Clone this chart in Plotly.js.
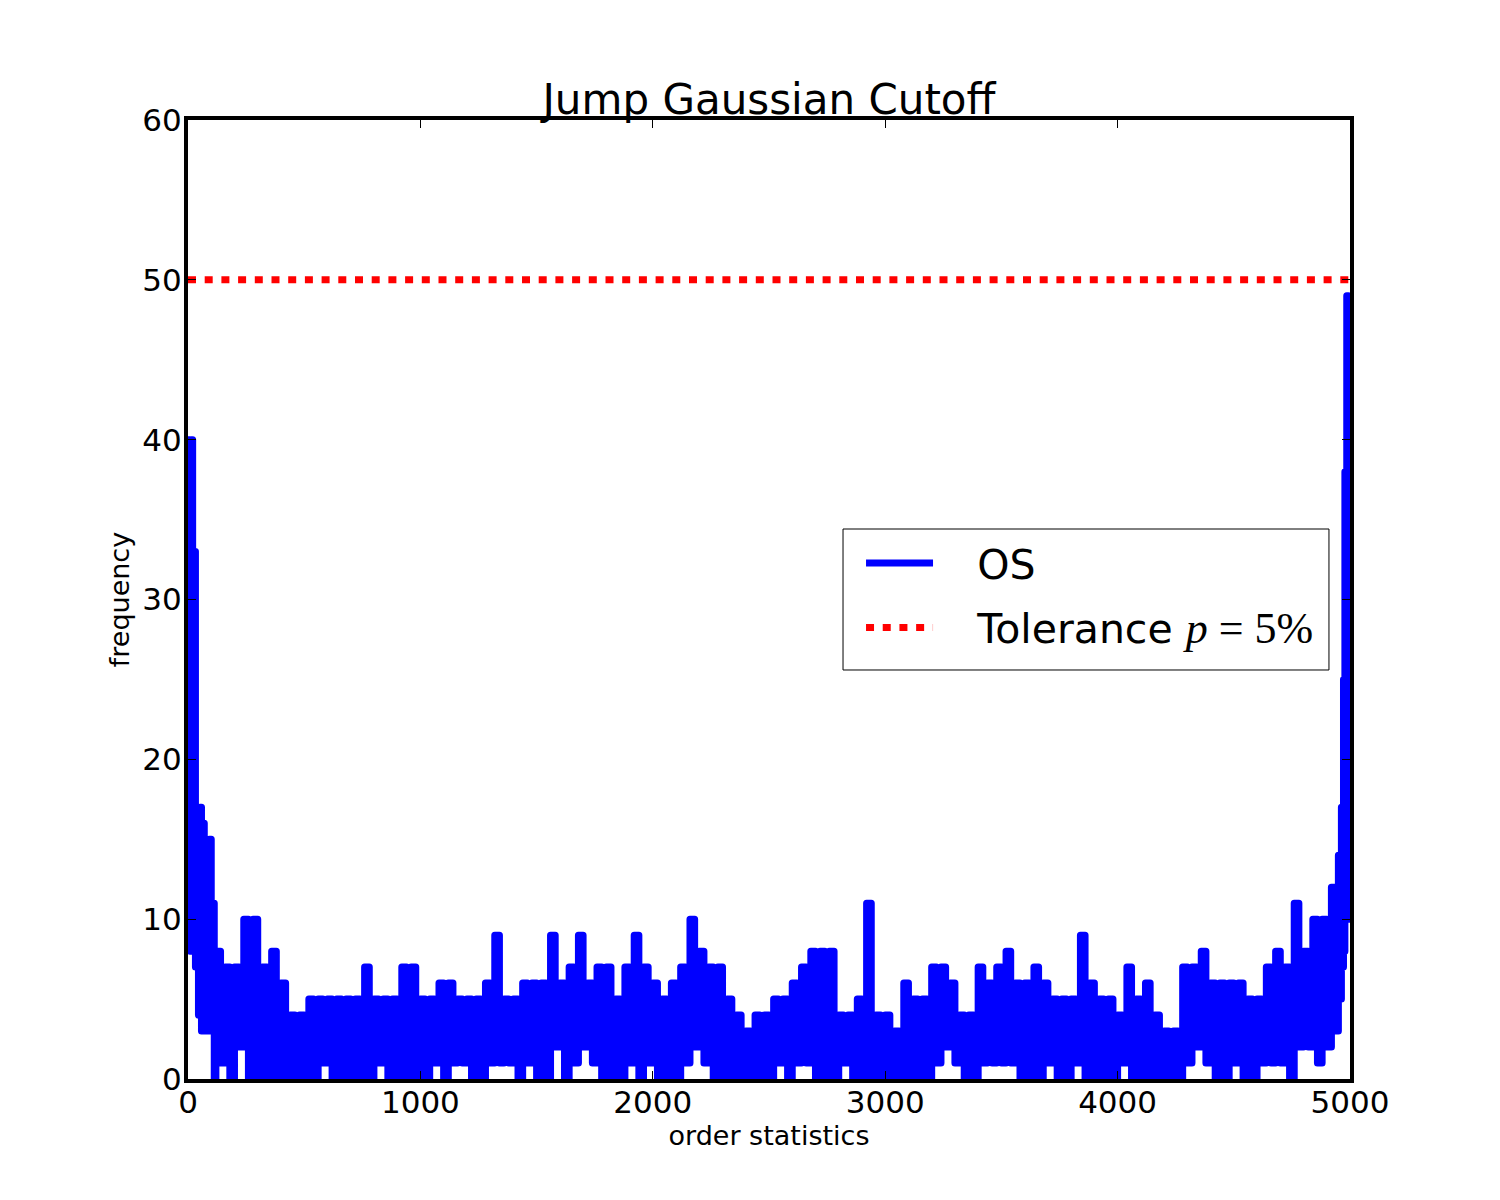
<!DOCTYPE html>
<html>
<head>
<meta charset="utf-8">
<script src="https://cdn.plot.ly/plotly-3.0.1.min.js"></script>
<style>
html,body{margin:0;padding:0;background:#fff;}
.scatterlayer .trace:first-child .js-line{stroke-linejoin:round;}
</style>
</head>
<body>
<div id="chart" style="width:1500px;height:1200px;"></div>
<script>
// Order statistics (x) and frequency (y): alternating local peaks / troughs
const osX = [0,8,14,20,26,32,38,45,52,58,64,70,78,84,92,100,106,113,
120,140,160,180,200,220,240,260,280,300,320,340,360,380,400,420,440,460,480,500,
520,540,560,580,600,620,640,660,680,700,720,740,760,780,800,820,840,860,880,900,
920,940,960,980,1000,1020,1040,1060,1080,1100,1120,1140,1160,1180,1200,1220,1240,1260,1280,1300,
1320,1340,1360,1380,1400,1420,1440,1460,1480,1500,1520,1540,1560,1580,1600,1620,1640,1660,1680,1700,
1720,1740,1760,1780,1800,1820,1840,1860,1880,1900,1920,1940,1960,1980,2000,2020,2040,2060,2080,2100,
2120,2140,2160,2180,2200,2220,2240,2260,2280,2300,2320,2340,2360,2380,2400,2420,2440,2460,2480,2500,
2520,2540,2560,2580,2600,2620,2640,2660,2680,2700,2720,2740,2760,2780,2800,2820,2840,2860,2880,2900,
2920,2940,2960,2980,3000,3020,3040,3060,3080,3100,3120,3140,3160,3180,3200,3220,3240,3260,3280,3300,
3320,3340,3360,3380,3400,3420,3440,3460,3480,3500,3520,3540,3560,3580,3600,3620,3640,3660,3680,3700,
3720,3740,3760,3780,3800,3820,3840,3860,3880,3900,3920,3940,3960,3980,4000,4020,4040,4060,4080,4100,
4120,4140,4160,4180,4200,4220,4240,4260,4280,4300,4320,4340,4360,4380,4400,4420,4440,4460,4480,4500,
4520,4540,4560,4580,4600,4620,4640,4660,4680,4700,4720,4740,4760,4780,4800,4820,4840,4860,4880,4900,
4920,4940,4950,4957,4963,4968,4972,4975,4978,4981,4986,4993,5000];
const osY = [40,8,40,8,33,7,17,4,17,3,16,3,15,3,15,3,11,0,
8,1,7,0,7,2,10,0,10,0,7,0,8,0,6,0,4,0,4,0,
5,0,5,1,5,0,5,0,5,0,5,0,7,0,5,1,5,0,5,0,
7,0,7,0,5,0,5,1,6,0,6,1,5,1,5,0,5,0,6,1,
9,1,5,1,5,0,6,1,6,0,6,0,9,2,6,0,7,1,9,2,
6,1,7,0,7,0,5,0,7,1,9,0,7,1,6,0,5,0,6,0,
7,1,10,2,8,1,7,0,7,0,5,0,4,0,3,0,4,0,4,0,
5,1,5,0,6,1,7,1,8,0,8,0,8,0,4,1,4,0,5,0,
11,0,4,0,4,0,3,0,6,0,5,0,5,0,7,1,7,2,6,1,
4,0,4,0,7,1,6,1,7,1,8,1,6,0,6,0,7,0,6,1,
5,0,5,0,5,1,9,0,6,0,5,0,5,0,4,1,7,0,5,0,
6,0,4,0,3,0,3,0,7,1,7,2,8,1,6,0,6,0,6,1,
6,0,5,0,5,1,7,1,8,1,7,0,11,2,8,2,10,1,10,2,
12,3,14,5,17,7,25,8,38,10,49,10,13];

// Tolerance line
const tolX = [0, 5000];
const tolY = [50, 50];

// Axis ticks
const xTicks = [0, 1000, 2000, 3000, 4000, 5000];
const yTicks = [0, 10, 20, 30, 40, 50, 60];

const font = 'DejaVu Sans';
const NB = '\u00a0\u00a0\u00a0';

const traces = [
  {
    x: osX, y: osY, type: 'scatter', mode: 'lines', name: NB + 'OS', legendgroup: 'a',
    line: {color: '#0000ff', width: 7, shape: 'hv', simplify: false}
  },
  {
    x: tolX, y: tolY, type: 'scatter', mode: 'lines', legendgroup: 'b',
    name: NB + 'Tolerance <span style="font-family:Liberation Serif;font-size:44px"><i>p</i> = 5%</span>',
    line: {color: '#ff0000', width: 7, dash: '8px,8.7px'}
  }
];

const axisCommon = {
  showgrid: false, zeroline: false,
  showline: true, linecolor: 'black', linewidth: 4, mirror: 'ticks',
  ticks: 'inside', ticklen: 8, tickwidth: 1, tickcolor: 'black',
  tickfont: {family: font, size: 31, color: 'black'}
};

const layout = {
  width: 1500, height: 1200,
  paper_bgcolor: 'white', plot_bgcolor: 'white',
  margin: {l: 188, r: 150, t: 120, b: 121, autoexpand: false},
  title: {
    text: 'Jump Gaussian Cutoff',
    font: {family: font, size: 42, color: 'black'},
    x: 0.5, xref: 'paper', xanchor: 'center',
    y: 1, yref: 'paper', yanchor: 'bottom', pad: {b: 6}
  },
  xaxis: Object.assign({}, axisCommon, {
    range: [0, 5000], tickvals: xTicks, ticktext: xTicks.map(String),
    ticklabelstandoff: -7,
    title: {text: 'order statistics', font: {family: font, size: 27, color: 'black'}, standoff: 8}
  }),
  yaxis: Object.assign({}, axisCommon, {
    range: [0, 60], tickvals: yTicks, ticktext: yTicks.map(String),
    ticklabelstandoff: -4,
    title: {text: 'frequency', font: {family: font, size: 27, color: 'black'}, standoff: 6}
  }),
  showlegend: true,
  legend: {
    x: 0.5792, y: 0.5725, xanchor: 'left', yanchor: 'top',
    bgcolor: 'rgba(0,0,0,0)', borderwidth: 0,
    font: {family: font, size: 41, color: 'black'},
    itemwidth: 67, tracegroupgap: 8
  },
  shapes: [{
    type: 'rect', xref: 'paper', yref: 'paper', layer: 'below',
    x0: 0.5637, x1: 0.9819, y0: 0.4265, y1: 0.5735,
    line: {color: 'black', width: 1}, fillcolor: 'white'
  }]
};

Plotly.newPlot('chart', traces, layout, {displayModeBar: false, staticPlot: true});
</script>
</body>
</html>
